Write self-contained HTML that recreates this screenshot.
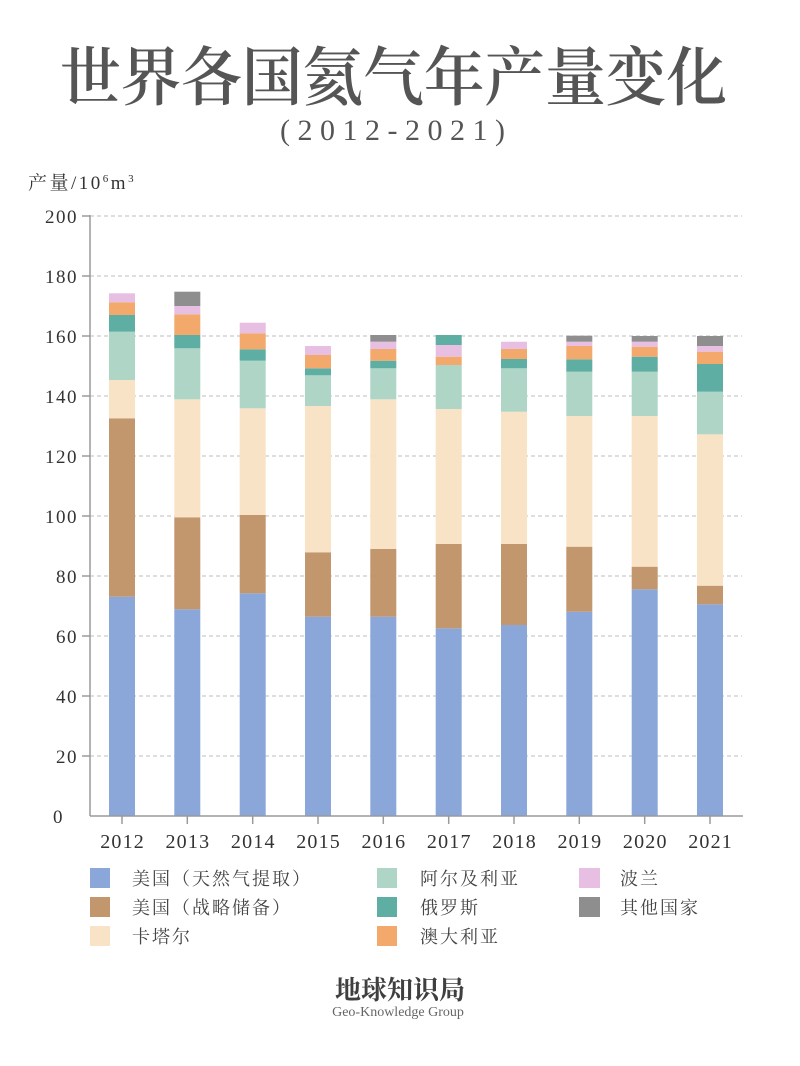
<!DOCTYPE html>
<html><head><meta charset="utf-8"><style>
html,body{margin:0;padding:0;background:#fff;}
svg{display:block;}
.cjk{font-family:"Liberation Serif","Noto Serif CJK SC",serif;}
.num{font-family:"Liberation Serif",serif;}
</style></head><body>
<svg width="800" height="1066" viewBox="0 0 800 1066" xmlns="http://www.w3.org/2000/svg">
<rect width="800" height="1066" fill="#fff"/>
<text x="60" y="100" class="cjk" font-size="64" font-weight="600" fill="#555" textLength="667" lengthAdjust="spacingAndGlyphs">世界各国氦气年产量变化</text>
<text x="280" y="140" class="num" font-size="30" fill="#555" textLength="225" lengthAdjust="spacing">(2012-2021)</text>
<text x="28" y="189" class="cjk" font-size="19" fill="#333" letter-spacing="2.5">产量/10<tspan font-size="11" dy="-7">6</tspan><tspan dy="7">m</tspan><tspan font-size="11" dy="-7">3</tspan></text>
<g stroke="#bdbdbd" stroke-width="1" stroke-dasharray="4,3">
<line x1="90" y1="216" x2="742" y2="216"/>
<line x1="90" y1="276" x2="742" y2="276"/>
<line x1="90" y1="336" x2="742" y2="336"/>
<line x1="90" y1="396" x2="742" y2="396"/>
<line x1="90" y1="456" x2="742" y2="456"/>
<line x1="90" y1="516" x2="742" y2="516"/>
<line x1="90" y1="576" x2="742" y2="576"/>
<line x1="90" y1="636" x2="742" y2="636"/>
<line x1="90" y1="696" x2="742" y2="696"/>
<line x1="90" y1="756" x2="742" y2="756"/>
</g>
<g class="num" font-size="19" fill="#333" text-anchor="end" letter-spacing="1.5">
<text x="78" y="223">200</text>
<text x="78" y="283">180</text>
<text x="78" y="343">160</text>
<text x="78" y="403">140</text>
<text x="78" y="463">120</text>
<text x="78" y="523">100</text>
<text x="78" y="583">80</text>
<text x="78" y="643">60</text>
<text x="78" y="703">40</text>
<text x="78" y="763">20</text>
<text x="64" y="823">0</text>
</g>
<g>
<rect x="109" y="596.7" width="26" height="219.3" fill="#8ba7da"/>
<rect x="109" y="418.3" width="26" height="178.4" fill="#c3976d"/>
<rect x="109" y="380" width="26" height="38.3" fill="#f8e3c6"/>
<rect x="109" y="331.7" width="26" height="48.3" fill="#aed5c6"/>
<rect x="109" y="315" width="26" height="16.7" fill="#5eaea3"/>
<rect x="109" y="302.3" width="26" height="12.7" fill="#f3a96b"/>
<rect x="109" y="293.3" width="26" height="9" fill="#e6bfe2"/>
<rect x="174.3" y="609.3" width="26" height="206.7" fill="#8ba7da"/>
<rect x="174.3" y="517.3" width="26" height="92" fill="#c3976d"/>
<rect x="174.3" y="399.3" width="26" height="118" fill="#f8e3c6"/>
<rect x="174.3" y="348.3" width="26" height="51" fill="#aed5c6"/>
<rect x="174.3" y="335" width="26" height="13.3" fill="#5eaea3"/>
<rect x="174.3" y="314.3" width="26" height="20.7" fill="#f3a96b"/>
<rect x="174.3" y="306" width="26" height="8.3" fill="#e6bfe2"/>
<rect x="174.3" y="291.7" width="26" height="14.3" fill="#8e8e8e"/>
<rect x="239.7" y="593.3" width="26" height="222.7" fill="#8ba7da"/>
<rect x="239.7" y="515" width="26" height="78.3" fill="#c3976d"/>
<rect x="239.7" y="408.3" width="26" height="106.7" fill="#f8e3c6"/>
<rect x="239.7" y="360.7" width="26" height="47.6" fill="#aed5c6"/>
<rect x="239.7" y="349.3" width="26" height="11.4" fill="#5eaea3"/>
<rect x="239.7" y="333.3" width="26" height="16" fill="#f3a96b"/>
<rect x="239.7" y="322.7" width="26" height="10.6" fill="#e6bfe2"/>
<rect x="305" y="616.7" width="26" height="199.3" fill="#8ba7da"/>
<rect x="305" y="552.3" width="26" height="64.4" fill="#c3976d"/>
<rect x="305" y="406" width="26" height="146.3" fill="#f8e3c6"/>
<rect x="305" y="375.3" width="26" height="30.7" fill="#aed5c6"/>
<rect x="305" y="368.3" width="26" height="7" fill="#5eaea3"/>
<rect x="305" y="355" width="26" height="13.3" fill="#f3a96b"/>
<rect x="305" y="346" width="26" height="9" fill="#e6bfe2"/>
<rect x="370.3" y="616.7" width="26" height="199.3" fill="#8ba7da"/>
<rect x="370.3" y="549" width="26" height="67.7" fill="#c3976d"/>
<rect x="370.3" y="399.3" width="26" height="149.7" fill="#f8e3c6"/>
<rect x="370.3" y="368.3" width="26" height="31" fill="#aed5c6"/>
<rect x="370.3" y="360.7" width="26" height="7.6" fill="#5eaea3"/>
<rect x="370.3" y="349" width="26" height="11.7" fill="#f3a96b"/>
<rect x="370.3" y="341.7" width="26" height="7.3" fill="#e6bfe2"/>
<rect x="370.3" y="335" width="26" height="6.7" fill="#8e8e8e"/>
<rect x="435.7" y="628.3" width="26" height="187.7" fill="#8ba7da"/>
<rect x="435.7" y="544" width="26" height="84.3" fill="#c3976d"/>
<rect x="435.7" y="409" width="26" height="135" fill="#f8e3c6"/>
<rect x="435.7" y="365" width="26" height="44" fill="#aed5c6"/>
<rect x="435.7" y="356.7" width="26" height="8.3" fill="#f3a96b"/>
<rect x="435.7" y="345" width="26" height="11.7" fill="#e6bfe2"/>
<rect x="435.7" y="335" width="26" height="10" fill="#5eaea3"/>
<rect x="501" y="625" width="26" height="191" fill="#8ba7da"/>
<rect x="501" y="544" width="26" height="81" fill="#c3976d"/>
<rect x="501" y="411.7" width="26" height="132.3" fill="#f8e3c6"/>
<rect x="501" y="368.3" width="26" height="43.4" fill="#aed5c6"/>
<rect x="501" y="359" width="26" height="9.3" fill="#5eaea3"/>
<rect x="501" y="349" width="26" height="10" fill="#f3a96b"/>
<rect x="501" y="341.7" width="26" height="7.3" fill="#e6bfe2"/>
<rect x="566.3" y="611.7" width="26" height="204.3" fill="#8ba7da"/>
<rect x="566.3" y="546.7" width="26" height="65" fill="#c3976d"/>
<rect x="566.3" y="416" width="26" height="130.7" fill="#f8e3c6"/>
<rect x="566.3" y="371.7" width="26" height="44.3" fill="#aed5c6"/>
<rect x="566.3" y="359.3" width="26" height="12.4" fill="#5eaea3"/>
<rect x="566.3" y="346" width="26" height="13.3" fill="#f3a96b"/>
<rect x="566.3" y="341.7" width="26" height="4.3" fill="#e6bfe2"/>
<rect x="566.3" y="335.7" width="26" height="6" fill="#8e8e8e"/>
<rect x="631.7" y="589.3" width="26" height="226.7" fill="#8ba7da"/>
<rect x="631.7" y="566.7" width="26" height="22.6" fill="#c3976d"/>
<rect x="631.7" y="416" width="26" height="150.7" fill="#f8e3c6"/>
<rect x="631.7" y="371.7" width="26" height="44.3" fill="#aed5c6"/>
<rect x="631.7" y="356.7" width="26" height="15" fill="#5eaea3"/>
<rect x="631.7" y="346.7" width="26" height="10" fill="#f3a96b"/>
<rect x="631.7" y="341.7" width="26" height="5" fill="#e6bfe2"/>
<rect x="631.7" y="336" width="26" height="5.7" fill="#8e8e8e"/>
<rect x="697" y="604.3" width="26" height="211.7" fill="#8ba7da"/>
<rect x="697" y="585.7" width="26" height="18.6" fill="#c3976d"/>
<rect x="697" y="434.3" width="26" height="151.4" fill="#f8e3c6"/>
<rect x="697" y="391.7" width="26" height="42.6" fill="#aed5c6"/>
<rect x="697" y="364" width="26" height="27.7" fill="#5eaea3"/>
<rect x="697" y="351.7" width="26" height="12.3" fill="#f3a96b"/>
<rect x="697" y="346" width="26" height="5.7" fill="#e6bfe2"/>
<rect x="697" y="336" width="26" height="10" fill="#8e8e8e"/>
</g>
<g stroke="#9a9a9a" stroke-width="1.5" fill="none">
<line x1="90" y1="215" x2="90" y2="816"/>
<line x1="90" y1="816" x2="743" y2="816"/>
<line x1="82" y1="216" x2="90" y2="216"/>
<line x1="82" y1="276" x2="90" y2="276"/>
<line x1="82" y1="336" x2="90" y2="336"/>
<line x1="82" y1="396" x2="90" y2="396"/>
<line x1="82" y1="456" x2="90" y2="456"/>
<line x1="82" y1="516" x2="90" y2="516"/>
<line x1="82" y1="576" x2="90" y2="576"/>
<line x1="82" y1="636" x2="90" y2="636"/>
<line x1="82" y1="696" x2="90" y2="696"/>
<line x1="82" y1="756" x2="90" y2="756"/>
<line x1="122" y1="816" x2="122" y2="824"/>
<line x1="187.3" y1="816" x2="187.3" y2="824"/>
<line x1="252.7" y1="816" x2="252.7" y2="824"/>
<line x1="318" y1="816" x2="318" y2="824"/>
<line x1="383.3" y1="816" x2="383.3" y2="824"/>
<line x1="448.7" y1="816" x2="448.7" y2="824"/>
<line x1="514" y1="816" x2="514" y2="824"/>
<line x1="579.3" y1="816" x2="579.3" y2="824"/>
<line x1="644.7" y1="816" x2="644.7" y2="824"/>
<line x1="710" y1="816" x2="710" y2="824"/>
</g>
<g class="num" font-size="20" fill="#333" text-anchor="middle" letter-spacing="1.2">
<text x="122.6" y="848">2012</text>
<text x="187.9" y="848">2013</text>
<text x="253.3" y="848">2014</text>
<text x="318.6" y="848">2015</text>
<text x="383.9" y="848">2016</text>
<text x="449.3" y="848">2017</text>
<text x="514.6" y="848">2018</text>
<text x="579.9" y="848">2019</text>
<text x="645.3" y="848">2020</text>
<text x="710.6" y="848">2021</text>
</g>
<rect x="90" y="868" width="20" height="20" fill="#8ba7da"/>
<rect x="90" y="897" width="20" height="20" fill="#c3976d"/>
<rect x="90" y="926" width="20" height="20" fill="#f8e3c6"/>
<rect x="377" y="868" width="20" height="20" fill="#aed5c6"/>
<rect x="377" y="897" width="20" height="20" fill="#5eaea3"/>
<rect x="377" y="926" width="20" height="20" fill="#f3a96b"/>
<rect x="579" y="868" width="21" height="20" fill="#e6bfe2"/>
<rect x="579" y="897" width="21" height="20" fill="#8e8e8e"/>
<g class="cjk" font-size="18" fill="#444" letter-spacing="2">
<text x="132" y="885">美国（天然气提取）</text>
<text x="132" y="914">美国（战略储备）</text>
<text x="132" y="943">卡塔尔</text>
<text x="420" y="885">阿尔及利亚</text>
<text x="420" y="914">俄罗斯</text>
<text x="420" y="943">澳大利亚</text>
<text x="620" y="885">波兰</text>
<text x="620" y="914">其他国家</text>
</g>
<text x="400" y="999" text-anchor="middle" class="cjk" font-size="26" font-weight="bold" fill="#3f3f3f">地球知识局</text>
<text x="398" y="1016" text-anchor="middle" class="num" font-size="14" fill="#666">Geo-Knowledge Group</text>
</svg>
</body></html>
